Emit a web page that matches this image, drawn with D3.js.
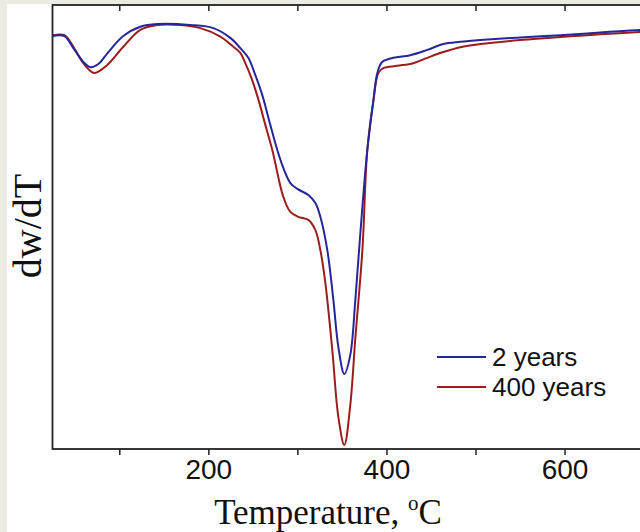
<!DOCTYPE html>
<html>
<head>
<meta charset="utf-8">
<script src="https://cdn.jsdelivr.net/npm/d3@7/dist/d3.min.js"></script>
<style>
  html, body { margin: 0; padding: 0; background: #fff; }
  svg { display: block; }
</style>
</head>
<body>
<svg id="chart" width="640" height="532"></svg>
<script>
// ---- data (temperature °C, relative dw/dT) ----
const seriesNames = ["2 years", "400 years"];
const seriesColors = ["#26269c", "#9c1c1c"];
const xTicks = [100, 200, 300, 400, 500, 600, 700];
const xTickLabels = ["", "200", "", "400", "", "600", ""];

const temp2 = [25, 38.3, 48.4, 59.6, 67.5, 76.5, 86.6, 104.5, 123.6, 142.7, 179.8, 205.6, 224.7, 235.9, 244.9, 252.8, 260.6, 269.6, 277.5, 284.2, 292.1, 299.9, 312.3, 320.2, 325.8, 333.6, 340.4, 346.0, 352.7, 359.4, 365.1, 370.7, 378.5, 385.3, 389.8, 395.4, 407.7, 426.8, 445.9, 463.9, 483.0, 505.4, 550.3, 595.3, 640.2, 685.1, 700.8];
const dwdt2 = [93.0, 93.0, 90.3, 87.2, 86.0, 86.7, 89.1, 93.0, 95.1, 95.7, 95.5, 94.8, 92.6, 90.3, 88.1, 84.2, 79.7, 73.0, 67.3, 63.3, 59.9, 58.6, 57.2, 55.4, 52.3, 44.8, 33.6, 23.0, 16.9, 21.2, 33.6, 48.6, 67.3, 78.4, 84.7, 87.2, 88.1, 88.7, 89.9, 91.2, 91.7, 92.1, 92.7, 93.2, 93.8, 94.4, 94.5];

const temp400 = [25, 38.3, 48.4, 59.6, 72.0, 86.6, 104.5, 123.6, 142.7, 168.5, 191.0, 213.5, 228.1, 235.9, 241.5, 248.3, 256.1, 264.0, 271.9, 284.2, 292.1, 301.0, 312.3, 320.2, 325.8, 331.4, 339.2, 346.0, 352.7, 359.4, 365.1, 373.0, 378.5, 385.3, 390.9, 396.5, 412.1, 430.2, 445.9, 463.9, 483.0, 505.4, 550.3, 595.3, 617.8, 640.2, 685.1, 700.8];
const dwdt400 = [93.2, 93.2, 90.6, 86.9, 84.7, 86.5, 90.6, 94.4, 95.5, 95.5, 94.8, 92.9, 90.6, 89.2, 86.9, 83.6, 78.8, 73.0, 67.3, 56.8, 53.4, 52.3, 51.6, 49.3, 44.8, 37.4, 22.3, 7.2, 0.9, 9.9, 25.0, 44.8, 67.3, 78.4, 84.7, 85.8, 86.3, 86.9, 88.1, 89.4, 90.5, 91.2, 92.1, 92.8, 93.1, 93.4, 93.9, 94.0];

const xDomain = [25, 700];
const yDomain = [0, 100];

// ---- layout ----
const svg = d3.select("#chart");
const mLeft = 52.5, mTop = 5, mBottom = 449;
const mRight = 52.5 + (xDomain[1] - xDomain[0]) * 0.8905;

// page background strips
svg.append("rect").attr("x", 0).attr("y", 0).attr("width", 640).attr("height", 532).attr("fill", "#fff");
svg.append("rect").attr("x", 0).attr("y", 0).attr("width", 640).attr("height", 4).attr("fill", "#ebebe3");
svg.append("rect").attr("x", 0).attr("y", 0).attr("width", 7).attr("height", 532).attr("fill", "#ebebe3");

const x = d3.scaleLinear().domain(xDomain).range([mLeft, mRight]);
const y = d3.scaleLinear().domain(yDomain).range([mBottom, mTop]);

// axes
const axisColor = "#222";
const bottomAxis = d3.axisBottom(x).tickValues(xTicks).tickSize(6).tickPadding(5)
  .tickFormat((d, i) => xTickLabels[i]);
const gB = svg.append("g").attr("transform", `translate(0,${mBottom})`).call(bottomAxis);
gB.select(".domain").remove();
gB.selectAll(".tick line").attr("stroke", axisColor).attr("stroke-width", 1.5);
gB.selectAll(".tick text").attr("fill", "#111").attr("font-family", "Liberation Sans, Arial, sans-serif")
  .attr("font-size", 28).attr("dy", "0.68em");

const topAxis = d3.axisTop(x).tickValues(xTicks).tickSize(-6).tickFormat("");
const gT = svg.append("g").attr("transform", `translate(0,${mTop})`).call(topAxis);
gT.select(".domain").remove();
gT.selectAll(".tick line").attr("stroke", axisColor).attr("stroke-width", 1.5);

// frame
svg.append("rect").attr("x", mLeft).attr("y", mTop).attr("width", mRight - mLeft).attr("height", mBottom - mTop)
  .attr("fill", "none").attr("stroke", axisColor).attr("stroke-width", 1.8);

// lines
const line = d3.line().x(d => x(d[0])).y(d => y(d[1])).curve(d3.curveCatmullRom.alpha(0.5));
svg.append("clipPath").attr("id", "clip").append("rect")
  .attr("x", mLeft).attr("y", mTop).attr("width", mRight - mLeft).attr("height", mBottom - mTop);
const series = [
  { name: seriesNames[1], color: seriesColors[1], data: d3.zip(temp400, dwdt400) },
  { name: seriesNames[0], color: seriesColors[0], data: d3.zip(temp2, dwdt2) }
];
svg.append("g").attr("clip-path", "url(#clip)").selectAll("path").data(series).join("path")
  .attr("d", d => line(d.data)).attr("fill", "none").attr("stroke", d => d.color)
  .attr("stroke-width", 2).attr("stroke-linejoin", "round");

// legend
const leg = svg.append("g");
seriesNames.forEach((name, i) => {
  const ly = 357 + i * 30;
  leg.append("line").attr("x1", 437).attr("x2", 486).attr("y1", ly).attr("y2", ly)
    .attr("stroke", seriesColors[i]).attr("stroke-width", 2);
  leg.append("text").attr("x", 492).attr("y", ly + 8.5).text(name)
    .attr("font-family", "Liberation Sans, Arial, sans-serif").attr("font-size", 26).attr("fill", "#111");
});

// axis titles
const xt = svg.append("text").attr("x", 328).attr("y", 524).attr("text-anchor", "middle")
  .attr("font-family", "Liberation Serif, Times New Roman, serif").attr("font-size", 35).attr("fill", "#111");
xt.append("tspan").text("Temperature, ");
xt.append("tspan").text("o").attr("font-size", 21).attr("dy", -14);
xt.append("tspan").text("C").attr("dy", 14);

svg.append("text").attr("transform", "translate(41,226) rotate(-90)").attr("text-anchor", "middle")
  .attr("font-family", "Liberation Serif, Times New Roman, serif").attr("font-size", 40).attr("fill", "#111")
  .text("dw/dT");
</script>
</body>
</html>
